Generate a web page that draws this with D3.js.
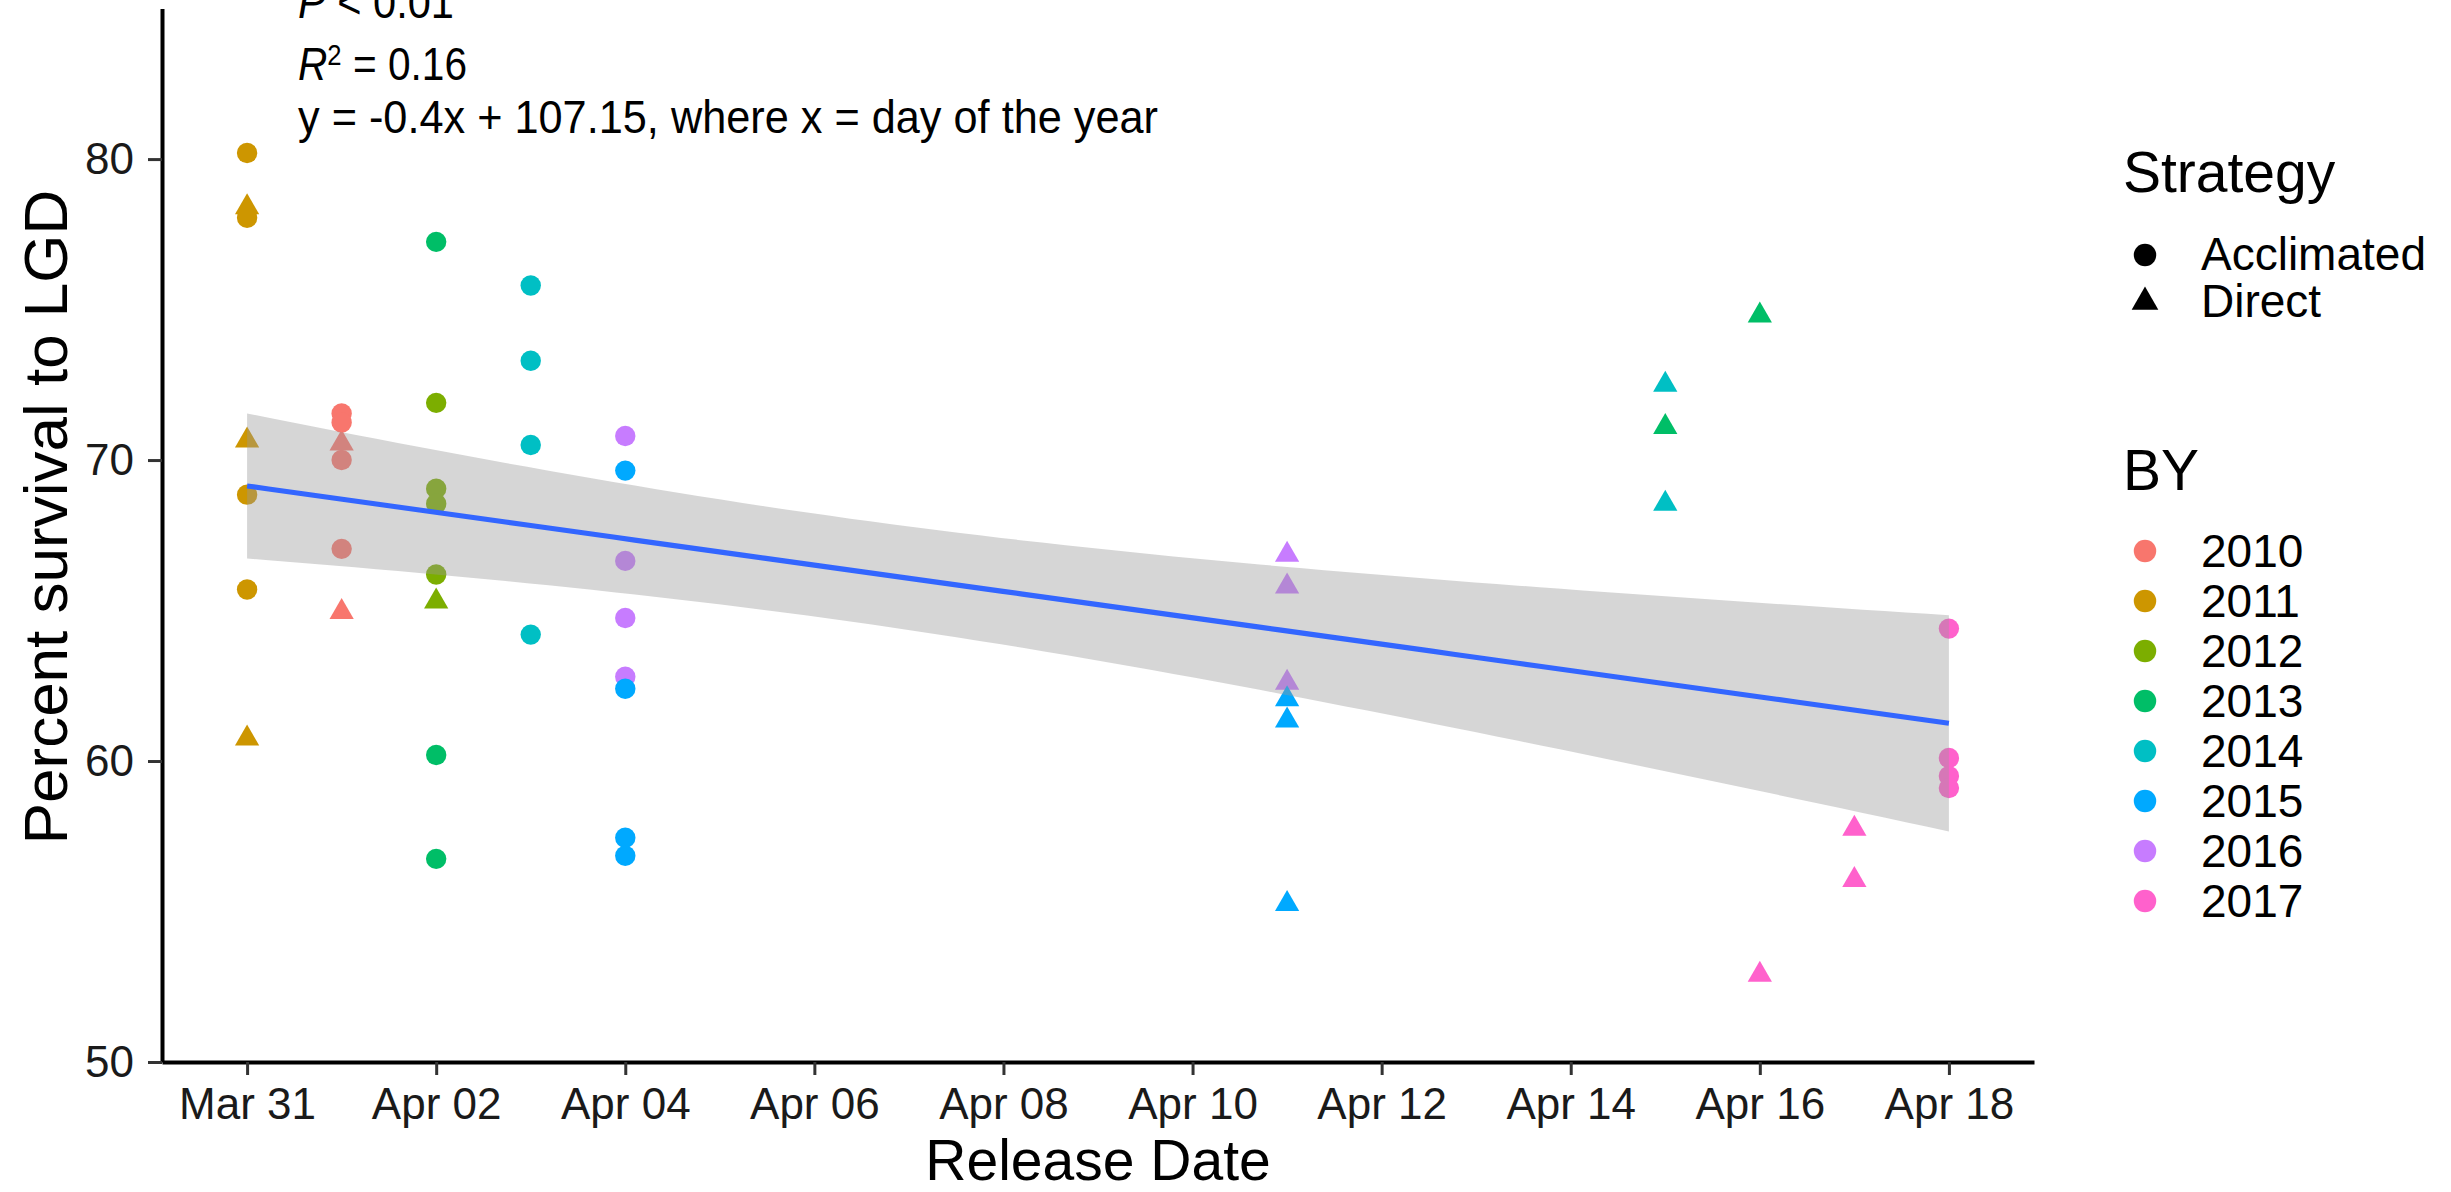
<!DOCTYPE html>
<html>
<head>
<meta charset="utf-8">
<script src="https://cdn.jsdelivr.net/npm/d3@7"></script>
<style>
  body { margin: 0; background: #fff; }
  svg { display: block; }
  text { font-family: "Liberation Sans", Arial, Helvetica, sans-serif; }
</style>
</head>
<body>
<svg id="chart" width="2451" height="1192"></svg>
<script>
// ---- data -------------------------------------------------------------
const releaseDate = [
  "2019-03-31","2019-03-31","2019-03-31","2019-03-31","2019-03-31","2019-03-31","2019-03-31",
  "2019-04-01","2019-04-01","2019-04-01","2019-04-01","2019-04-01","2019-04-01",
  "2019-04-02","2019-04-02","2019-04-02","2019-04-02","2019-04-02","2019-04-02","2019-04-02","2019-04-02",
  "2019-04-03","2019-04-03","2019-04-03","2019-04-03",
  "2019-04-04","2019-04-04","2019-04-04","2019-04-04","2019-04-04","2019-04-04","2019-04-04","2019-04-04",
  "2019-04-11","2019-04-11","2019-04-11","2019-04-11","2019-04-11","2019-04-11",
  "2019-04-15","2019-04-15","2019-04-15",
  "2019-04-16","2019-04-16",
  "2019-04-17","2019-04-17",
  "2019-04-18","2019-04-18","2019-04-18","2019-04-18"
];
const broodYear = [
  "2011","2011","2011","2011","2011","2011","2011",
  "2010","2010","2010","2010","2010","2010",
  "2013","2012","2012","2012","2012","2012","2013","2013",
  "2014","2014","2014","2014",
  "2016","2015","2016","2016","2016","2015","2015","2015",
  "2016","2016","2016","2015","2015","2015",
  "2014","2013","2014",
  "2013","2017",
  "2017","2017",
  "2017","2017","2017","2017"
];
const strategy = [
  "Acclimated","Direct","Acclimated","Direct","Acclimated","Acclimated","Direct",
  "Acclimated","Acclimated","Direct","Acclimated","Acclimated","Direct",
  "Acclimated","Acclimated","Acclimated","Acclimated","Acclimated","Direct","Acclimated","Acclimated",
  "Acclimated","Acclimated","Acclimated","Acclimated",
  "Acclimated","Acclimated","Acclimated","Acclimated","Acclimated","Acclimated","Acclimated","Acclimated",
  "Direct","Direct","Direct","Direct","Direct","Direct",
  "Direct","Direct","Direct",
  "Direct","Direct",
  "Direct","Direct",
  "Acclimated","Acclimated","Acclimated","Acclimated"
];
const survival = [
  80.2, 78.4, 78.05, 70.65, 68.85, 65.7, 60.75,
  71.55, 71.25, 70.55, 70.0, 67.05, 64.95,
  77.25, 71.9, 69.05, 68.55, 66.2, 65.3, 60.2, 56.75,
  75.8, 73.3, 70.5, 64.2,
  70.8, 69.65, 66.65, 64.75, 62.8, 62.4, 57.45, 56.85,
  66.85, 65.8, 62.6, 62.05, 61.35, 55.25,
  72.5, 71.1, 68.55,
  74.8, 52.9,
  57.75, 56.05,
  64.4, 60.1, 59.5, 59.1
];

const broodYears = ["2010","2011","2012","2013","2014","2015","2016","2017"];
const byColors   = ["#F8766D","#CD9600","#7CAE00","#00BE67","#00BFC4","#00A9FF","#C77CFF","#FF61CC"];
const strategies = ["Acclimated","Direct"];
const xTickDates = ["2019-03-31","2019-04-02","2019-04-04","2019-04-06","2019-04-08",
                    "2019-04-10","2019-04-12","2019-04-14","2019-04-16","2019-04-18"];
const yTicks  = [50, 60, 70, 80];
const yLimits = [50, 85];
const statP   = "0.01";
const statR2  = "0.16";
const statEquation = "y = -0.4x + 107.15, where x = day of the year";

// ---- layout -----------------------------------------------------------
const panel = { left: 162, right: 2034, top: 8.6, bottom: 1062 };
const DAY = 864e5;
const parseDay = d3.utcParse("%Y-%m-%d");

const rows = survival.map((v, i) => ({
  date: parseDay(releaseDate[i]), by: broodYear[i], strat: strategy[i], v
}));

const dMin = d3.min(rows, r => r.date), dMax = d3.max(rows, r => r.date);
const pad = (dMax - dMin) * 0.05;

const x = d3.scaleUtc()
  .domain([new Date(+dMin - pad), new Date(+dMax + pad)])
  .range([panel.left, panel.right]);
const y = d3.scaleLinear().domain(yLimits).range([panel.bottom, panel.top]);
const color = d3.scaleOrdinal().domain(broodYears).range(byColors);

const svg = d3.select("#chart");

// ---- symbols ----------------------------------------------------------
const CIRCLE_R = 10.2, TRI_R = 14;
function triPath(r) {
  const hx = r * Math.sqrt(3) / 2;
  return `M0,${-r}L${hx},${r / 2}L${-hx},${r / 2}Z`;
}

// ---- linear model with 95% confidence band ---------------------------
const xs = rows.map(r => (r.date - dMin) / DAY);
const ys = rows.map(r => r.v);
const n = xs.length;
const mx = d3.mean(xs), my = d3.mean(ys);
let sxx = 0, sxy = 0;
for (let i = 0; i < n; i++) { sxx += (xs[i] - mx) ** 2; sxy += (xs[i] - mx) * (ys[i] - my); }
const slope = sxy / sxx, icpt = my - slope * mx;
let sse = 0;
for (let i = 0; i < n; i++) sse += (ys[i] - (icpt + slope * xs[i])) ** 2;
const sigma = Math.sqrt(sse / (n - 2));

function tQuantile(p, df) {
  const dens = t => Math.pow(1 + t * t / df, -(df + 1) / 2);
  const simpson = (a, b, m) => {
    const h = (b - a) / m; let s = dens(a) + dens(b);
    for (let k = 1; k < m; k++) s += dens(a + k * h) * (k % 2 ? 4 : 2);
    return s * h / 3;
  };
  const half = simpson(0, 60, 24000);
  let lo = 0, hi = 10;
  for (let it = 0; it < 60; it++) {
    const mid = (lo + hi) / 2;
    if (simpson(0, mid, 2000) / half < (p - 0.5) * 2) lo = mid; else hi = mid;
  }
  return (lo + hi) / 2;
}
const tCrit = tQuantile(0.975, n - 2);
const xMaxDays = (dMax - dMin) / DAY;
const grid = d3.range(80).map(i => i * xMaxDays / 79);
const fitRows = grid.map(g => {
  const fit = icpt + slope * g;
  const se = sigma * Math.sqrt(1 / n + (g - mx) ** 2 / sxx);
  return { date: new Date(+dMin + g * DAY), fit, lo: fit - tCrit * se, hi: fit + tCrit * se };
});

// ---- points -----------------------------------------------------------
const gPts = svg.append("g");
gPts.selectAll("path.pt").data(rows).join("path")
  .attr("class", "pt")
  .attr("transform", d => `translate(${x(d.date)},${y(d.v)})`)
  .attr("d", d => d.strat === "Direct" ? triPath(TRI_R)
                  : d3.symbol(d3.symbolCircle, Math.PI * CIRCLE_R * CIRCLE_R)())
  .attr("fill", d => color(d.by));

// ---- smoother (band over the points, then the fitted line) -----------
svg.append("path").datum(fitRows)
  .attr("d", d3.area().x(d => x(d.date)).y0(d => y(d.lo)).y1(d => y(d.hi)))
  .attr("fill", "#999999").attr("fill-opacity", 0.4);
svg.append("path").datum(fitRows)
  .attr("d", d3.line().x(d => x(d.date)).y(d => y(d.fit)))
  .attr("fill", "none").attr("stroke", "#3366FF").attr("stroke-width", 5.2);

// ---- axes -------------------------------------------------------------
const xAxis = d3.axisBottom(x)
  .tickValues(xTickDates.map(parseDay))
  .tickFormat(d3.utcFormat("%b %d"))
  .tickSize(13).tickSizeOuter(0).tickPadding(12.5);
const gx = svg.append("g").attr("transform", `translate(0,${panel.bottom})`).call(xAxis);

const yAxis = d3.axisLeft(y).tickValues(yTicks).tickSize(14).tickSizeOuter(0).tickPadding(14);
const gy = svg.append("g").attr("transform", `translate(${panel.left},0)`).call(yAxis);

[gx, gy].forEach(g => {
  g.select(".domain").attr("stroke", "#000").attr("stroke-width", 4);
  g.selectAll(".tick line").attr("stroke", "#333").attr("stroke-width", 3);
  g.selectAll(".tick text").attr("fill", "#1a1a1a")
    .style("font-family", '"Liberation Sans", Arial, sans-serif');
});
gx.selectAll(".tick text").style("font-size", "44px");
gy.selectAll(".tick text").style("font-size", "44px");

// axis titles
svg.append("text").attr("x", (panel.left + panel.right) / 2).attr("y", 1179.5)
  .attr("text-anchor", "middle").style("font-size", "57px").text("Release Date");
svg.append("text").attr("transform", "translate(67,517) rotate(-90)")
  .attr("text-anchor", "middle").style("font-size", "62px").text("Percent survival to LGD");

// ---- fit statistics ---------------------------------------------------
const statFont = 'Carlito, Calibri, "Liberation Sans Narrow", "Open Sans", sans-serif';
const gStat = svg.append("g").style("font-family", statFont).style("font-size", "46px");
const l1 = gStat.append("text").attr("x", 298).attr("y", 18)
  .attr("textLength", 156).attr("lengthAdjust", "spacingAndGlyphs");
l1.append("tspan").style("font-style", "italic").text("P");
l1.append("tspan").text(" < " + statP);
const l2 = gStat.append("text").attr("x", 298).attr("y", 80)
  .attr("textLength", 169).attr("lengthAdjust", "spacingAndGlyphs");
l2.append("tspan").style("font-style", "italic").text("R");
l2.append("tspan").attr("dy", -15).style("font-size", "29px").text("2");
l2.append("tspan").attr("dy", 15).text(" = " + statR2);
gStat.append("text").attr("x", 298).attr("y", 133)
  .attr("textLength", 860).attr("lengthAdjust", "spacingAndGlyphs").text(statEquation);

// ---- legends ----------------------------------------------------------
const lg = svg.append("g");
lg.append("text").attr("x", 2123).attr("y", 192).style("font-size", "57px").text("Strategy");
const stratKeyY = [255, 302];
strategies.forEach((s, i) => {
  lg.append("path")
    .attr("transform", `translate(2145,${stratKeyY[i]})`)
    .attr("d", s === "Direct" ? triPath(TRI_R * 1.1)
                : d3.symbol(d3.symbolCircle, Math.PI * (CIRCLE_R * 1.1) ** 2)())
    .attr("fill", "#000");
  lg.append("text").attr("x", 2201).attr("y", stratKeyY[i]).attr("dy", "0.33em")
    .style("font-size", "46px").text(s);
});

lg.append("text").attr("x", 2123).attr("y", 490).style("font-size", "57px").text("BY");
broodYears.forEach((b, i) => {
  const cy = 551 + 50 * i;
  lg.append("circle").attr("cx", 2145).attr("cy", cy).attr("r", CIRCLE_R * 1.1).attr("fill", color(b));
  lg.append("text").attr("x", 2201).attr("y", cy).attr("dy", "0.35em")
    .style("font-size", "46px").text(b);
});
</script>
</body>
</html>
